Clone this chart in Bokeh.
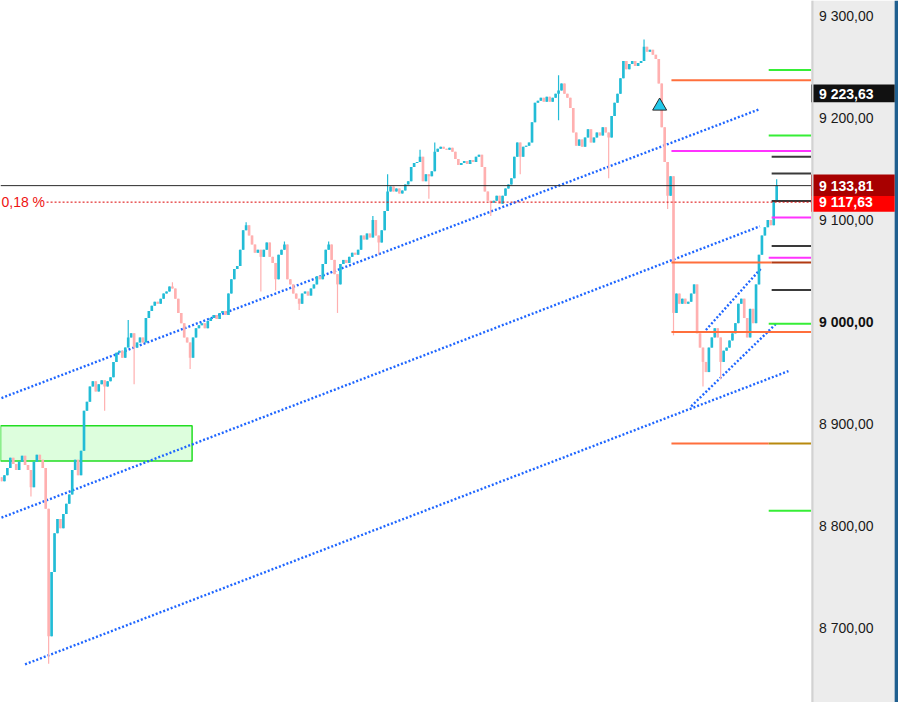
from bokeh.plotting import figure
from bokeh.models import Range1d, FixedTicker, Label, LinearAxis
from bokeh.embed import file_html
from bokeh.resources import INLINE

# ---------------- data ----------------
first_open = 8848.0
closes = [
    8844, 8850, 8857, 8867, 8861, 8855, 8863, 8869, 8860, 8855,
    8838, 8863, 8870, 8865, 8857, 8817, 8692, 8755, 8793, 8807,
    8798, 8812, 8822, 8831, 8855, 8865, 8850, 8874, 8913, 8922,
    8937, 8942, 8932, 8939, 8943, 8937, 8942, 8946, 8961, 8970,
    8972, 8965, 8975, 8985, 8989, 8975, 8980, 8985, 8980, 9004,
    9011, 9016, 9020, 9018, 9023, 9028, 9030, 9035, 9033, 9023,
    9009, 8999, 8985, 8980, 8965, 8985, 8994, 8997, 8999, 8994,
    9001, 9004, 9007, 9003, 9009, 9011, 9007, 9028, 9042, 9052,
    9055, 9071, 9090, 9095, 9085, 9076, 9068, 9071, 9064, 9071,
    9078, 9064, 9058, 9042, 9066, 9071, 9076, 9042, 9037, 9028,
    9023, 9018, 9028, 9030, 9026, 9033, 9037, 9045, 9042, 9057,
    9071, 9076, 9061, 9047, 9037, 9057, 9061, 9058, 9064, 9068,
    9066, 9071, 9085, 9081, 9087, 9083, 9100, 9085, 9078, 9090,
    9109, 9128, 9133, 9128, 9131, 9126, 9129, 9135, 9138, 9152,
    9156, 9157, 9162, 9138, 9145, 9143, 9148, 9167, 9170, 9172,
    9170, 9169, 9171, 9167, 9160, 9154, 9156, 9158, 9155, 9159,
    9157, 9162, 9164, 9152, 9128, 9119, 9117, 9119, 9124, 9116,
    9124, 9131, 9135, 9141, 9162, 9176, 9162, 9172, 9173, 9176,
    9196, 9215, 9217, 9220, 9216, 9221, 9216, 9220, 9224, 9227,
    9234, 9224, 9220, 9210, 9186, 9173, 9179, 9172, 9181, 9189,
    9176, 9181, 9186, 9183, 9191, 9186, 9181, 9202, 9215, 9224,
    9239, 9256, 9248, 9253, 9256, 9251, 9254, 9256, 9270, 9265,
    9267, 9262, 9258, 9234, 9191, 9157, 9124, 9143, 9009, 9028,
    9018, 9023, 9018, 9020, 9028, 9037, 8989, 8975, 8961, 8951,
    8975, 8985, 8994, 8985, 8961, 8972, 8975, 8982, 8989, 8999,
    9018, 9023, 9004, 8985, 9013, 8999, 9037, 9066, 9085, 9093,
    9100, 9095, 9119, 9133.81,
]
spike_bar = [10, 16, 35, 43, 45, 58, 64, 83, 88, 93, 96, 101, 111, 114, 126, 128,
             131, 142, 145, 147, 166, 176, 189, 189, 206, 218, 226, 228, 238, 244, 263]
spike_px = [8829, 8665, 8913, 9002, 8939, 9039, 8954, 9098, 9030, 9031, 9079, 9012, 9079, 9009, 9104, 9066,
            9145, 9169, 9121, 9176, 9104, 9145, 9242, 9198, 9141, 9277, 9111, 8987, 8937, 8944, 9140]

last_price = 9133.81
ref_price = 9117.63
ref_label = "0,18 %"
marker_price = 9223.63
marker_bar = 223.3
marker_level = 9211.8

box_bars = [-0.33, 64.67]
box_prices = [8863.9, 8898.4]

level_price = [9247.2, 9183.0, 8998.5, 8815.0,
               9237.2, 9058.4, 9058.4, 8990.4, 8881.1, 8881.1,
               9167.7, 9102.5, 9063.2,
               9162.0, 9145.7, 9118.8, 9074.7, 9031.6]
level_from = [260.3, 260.3, 260.3, 260.3,
              227.3, 227.3, 261.3, 227.3, 227.3, 260.3,
              227.3, 261.3, 260.3,
              261.3, 261.3, 261.3, 261.3, 261.3]
level_to = [275, 275, 275, 275,
            275, 261.3, 275, 275, 260.3, 275,
            275, 275, 275,
            275, 275, 275, 275, 275]
level_color = ["#36ee36"] * 4 + ["#ff6f3c", "#ff6f3c", "#b23a12", "#ff6f3c", "#ff6f3c", "#b8890e"] + \
              ["#ff33ff"] * 3 + ["#3a3a3a"] * 5

trend_x0 = [0, 0, 8, 234, 239]
trend_p0 = [8925.6, 8808.3, 8664.5, 8917.5, 8992.3]
trend_x1 = [257.3, 257.3, 267, 263, 258]
trend_p1 = [9208.9, 9093.9, 8952.0, 8999.0, 9053.6]

tick_values = [8700, 8800, 8900, 9100, 9200, 9300]
tick_labels = ["8 700,00", "8 800,00", "8 900,00", "9 100,00", "9 200,00", "9 300,00"]
bold_tick = 9000
bold_label = "9 000,00"

badge_price = [marker_price, last_price, ref_price]
badge_bottom = [9215.6, 9123.6, 9108.3]
badge_top = [9232.9, 9144.7, 9123.6]
badge_color = ["#111111", "#a80000", "#ff0000"]

# ---------------- derived candle fields ----------------
opens = [first_open] + closes[:-1]
highs = [max(o, c) for o, c in zip(opens, closes)]
lows = [min(o, c) for o, c in zip(opens, closes)]
for b, sp in zip(spike_bar, spike_px):
    if sp > highs[b]:
        highs[b] = sp
    elif sp < lows[b]:
        lows[b] = sp
idx = list(range(len(closes)))
UP, DOWN = "#22bcd6", "#ffb0b0"
colors = [UP if c >= o else DOWN for o, c in zip(opens, closes)]

FONT = "Liberation Sans"
X0, X1 = -0.333, 304.333      # plot span (bars)
PANEL = 274.667               # start of the price-scale panel

p = figure(width=898, height=702,
           x_range=Range1d(X0, X1), y_range=Range1d(8627.1, 9315.3),
           output_backend="svg", toolbar_location=None,
           x_axis_location=None, y_axis_location=None,
           min_border=0, border_fill_color="white", background_fill_color="white",
           outline_line_color=None)
p.xgrid.visible = False
p.ygrid.visible = False

# green zone
p.quad(left=[box_bars[0]], right=[box_bars[1]], bottom=[box_prices[0]], top=[box_prices[1]],
       fill_color="#ddfedd", line_color="#22dd22", line_width=1.5)

# trend channels
p.segment(x0=trend_x0, y0=trend_p0, x1=trend_x1, y1=trend_p1,
          line_color="#1f66ff", line_width=2.4, line_dash="2 2")

# candles
p.segment(x0=idx, y0=lows, x1=idx, y1=highs, line_color=colors, line_width=1.2)
p.vbar(x=idx, bottom=[min(o, c) for o, c in zip(opens, closes)],
       top=[max(o, c) if abs(o - c) > 0.8 else min(o, c) + 0.8 for o, c in zip(opens, closes)],
       width=0.9, fill_color=colors, line_color=None)

# level lines
p.segment(x0=level_from, y0=level_price, x1=level_to, y1=level_price,
          line_color=level_color, line_width=2)

# last price / reference price
p.segment(x0=[X0], y0=[last_price], x1=[PANEL], y1=[last_price], line_color="#2a2a2a", line_width=1)
p.segment(x0=[15.3], y0=[ref_price], x1=[PANEL], y1=[ref_price],
          line_color="#dd0000", line_width=1, line_dash="2 2")
p.add_layout(Label(x=0, y=ref_price, text=ref_label, text_color="#ee1111",
                   text_font=FONT, text_font_size="14px", text_baseline="middle"))

# marker
p.scatter(x=[marker_bar], y=[marker_level], marker="triangle", size=14,
          fill_color="#22c9ea", line_color="#2a2a2a", line_width=1)

# price-scale panel
p.quad(left=[PANEL], right=[X1], bottom=[8627.1], top=[9315.3],
       fill_color="#ececec", line_color=None)
p.quad(left=[X1 - 1.3], right=[X1], bottom=[8627.1], top=[9315.3],
       fill_color="#1f5f8f", line_color=None)

ax = LinearAxis(fixed_location=PANEL + 0.35)
p.add_layout(ax, "right")
ax.ticker = FixedTicker(ticks=tick_values)
ax.major_label_overrides = {v: s for v, s in zip(tick_values, tick_labels)}
ax.major_tick_out = 0
ax.major_tick_in = 0
ax.minor_tick_out = 0
ax.minor_tick_in = 0
ax.axis_line_color = "#d2d2d2"
ax.axis_line_width = 2
ax.major_label_text_font = FONT
ax.major_label_text_font_size = "14px"
ax.major_label_text_color = "#1a1a1a"
ax.major_label_standoff = 7

# badges
p.quad(left=[PANEL] * 3, right=[X1 - 1.3] * 3, bottom=badge_bottom, top=badge_top,
       fill_color=badge_color, line_color=None)
bx = PANEL + 2.7
p.add_layout(Label(x=bx, y=bold_tick, text=bold_label, text_color="#111111",
                   text_font=FONT, text_font_size="14px", text_font_style="bold",
                   text_baseline="middle"))
for price in badge_price:
    txt = f"{price:,.2f}".replace(",", " ").replace(".", ",")
    p.add_layout(Label(x=bx, y=price, text=txt, text_color="white", text_font=FONT,
                       text_font_size="14px", text_font_style="bold", text_baseline="middle"))

open("out.html", "w").write(file_html(p, INLINE))
